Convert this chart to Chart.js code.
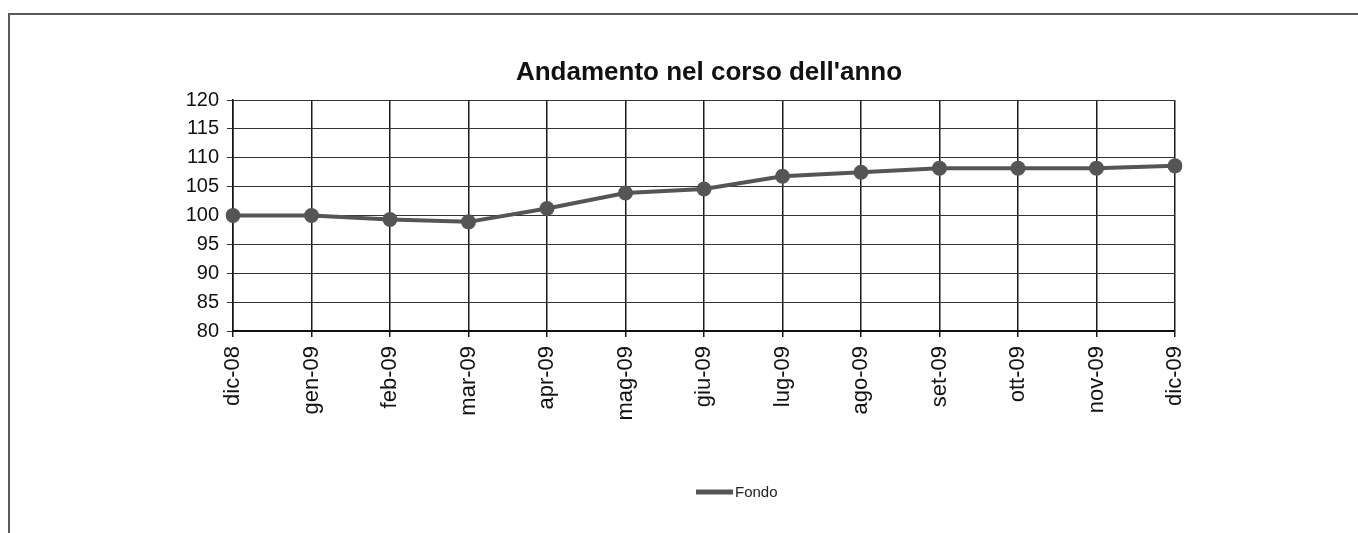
<!DOCTYPE html>
<html>
<head>
<meta charset="utf-8">
<script src="https://cdn.jsdelivr.net/npm/chart.js@4/dist/chart.umd.min.js"></script>
<style>
  html, body { margin: 0; padding: 0; background: #fff; }
  #wrap { width: 1358px; height: 533px; position: relative; }
</style>
</head>
<body>
<div id="wrap"><canvas id="chart" width="1358" height="533"></canvas></div>
<script>
const months = ["dic-08", "gen-09", "feb-09", "mar-09", "apr-09", "mag-09", "giu-09",
  "lug-09", "ago-09", "set-09", "ott-09", "nov-09", "dic-09"];
const fondo = [100.0, 100.0, 99.3, 98.9, 101.2, 103.9, 104.6, 106.8, 107.5, 108.2, 108.2, 108.2, 108.6];
const chartTitle = "Andamento nel corso dell'anno";
const seriesName = "Fondo";

const FONT = "'Liberation Sans', Arial, Helvetica, sans-serif";
const lineColor = "#555555";

// frame, title and legend drawn by hand so they sit where the original has them
const decorations = {
  id: "decorations",
  beforeDraw(chart) {
    const c = chart.ctx;
    c.save();
    c.strokeStyle = "#5a5a5a";
    c.lineWidth = 2;
    c.beginPath();
    c.moveTo(9, 533);
    c.lineTo(9, 14);
    c.lineTo(1358, 14);
    c.stroke();
    c.restore();
  },
  afterDraw(chart) {
    const c = chart.ctx;
    const area = chart.chartArea;
    c.save();
    c.fillStyle = "#111";
    c.font = "bold 26px " + FONT;
    c.textAlign = "center";
    c.textBaseline = "alphabetic";
    c.fillText(chartTitle, (area.left + area.right) / 2 + 5, 80);

    c.strokeStyle = lineColor;
    c.lineWidth = 5;
    c.beginPath();
    c.moveTo(696, 492);
    c.lineTo(733, 492);
    c.stroke();
    c.font = "15px " + FONT;
    c.textAlign = "left";
    c.textBaseline = "middle";
    c.fillStyle = "#222";
    c.fillText(seriesName, 735, 493);
    c.restore();
  }
};

new Chart(document.getElementById("chart"), {
  type: "line",
  data: {
    labels: months,
    datasets: [{
      label: seriesName,
      data: fondo,
      borderColor: lineColor,
      backgroundColor: lineColor,
      borderWidth: 4,
      pointRadius: 7.5,
      pointHoverRadius: 7.5,
      pointBackgroundColor: lineColor,
      pointBorderWidth: 0,
      tension: 0,
      fill: false
    }]
  },
  options: {
    responsive: false,
    animation: false,
    devicePixelRatio: 1,
    layout: { padding: { top: 100, right: 183, bottom: 0, left: 0 } },
    plugins: {
      legend: { display: false },
      title: { display: false },
      tooltip: { enabled: false }
    },
    scales: {
      x: {
        offset: false,
        grid: { color: "#1a1a1a", lineWidth: 1.5, tickLength: 6, drawTicks: true },
        border: { color: "#111", width: 2 },
        ticks: {
          color: "#111",
          font: { family: FONT, size: 22 },
          minRotation: 90,
          maxRotation: 90,
          padding: 9,
          autoSkip: false
        },
        afterFit(scale) { scale.height = 202; }
      },
      y: {
        min: 80,
        max: 120,
        grid: { color: "#333", lineWidth: 1, tickLength: 6 },
        border: { color: "#111", width: 1.5 },
        ticks: {
          stepSize: 5,
          color: "#111",
          font: { family: FONT, size: 20 },
          padding: 8
        },
        afterFit(scale) { scale.width = 233; }
      }
    }
  },
  plugins: [decorations]
});
</script>
</body>
</html>
